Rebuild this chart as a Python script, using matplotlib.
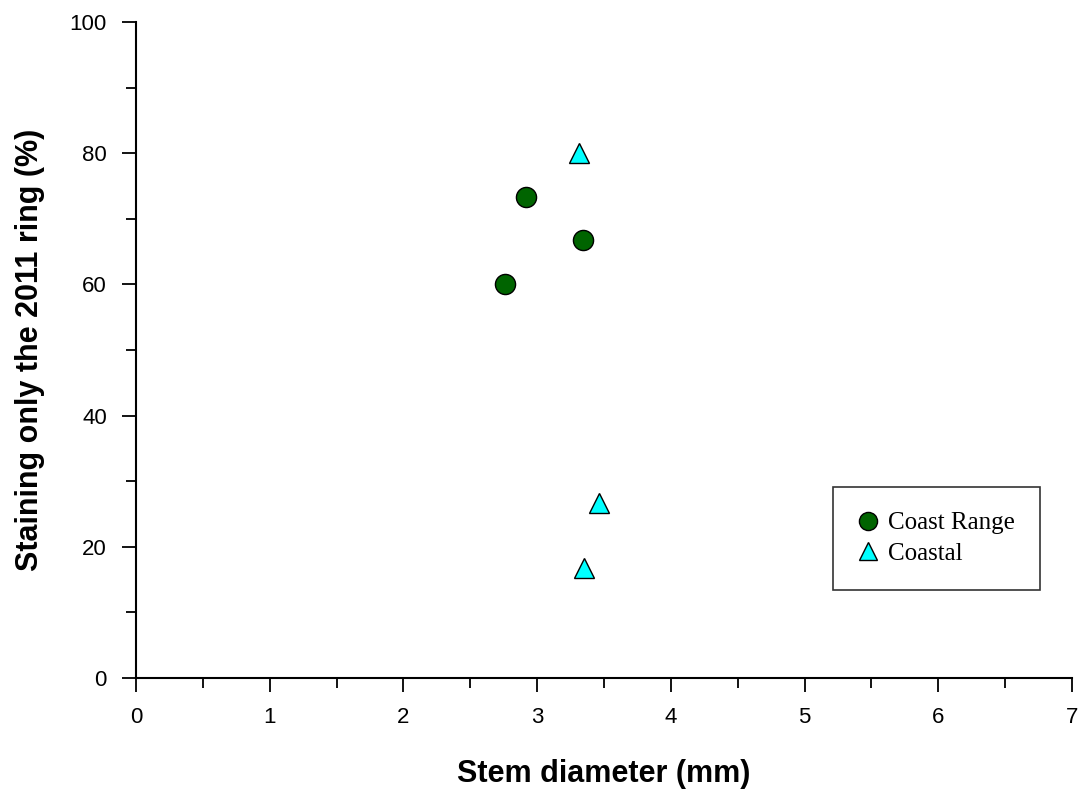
import matplotlib.pyplot as plt
from matplotlib.ticker import MultipleLocator

plt.rcParams['font.family'] = ['Liberation Sans', 'DejaVu Sans']

# Coast Range seedlings
coast_range_x = [2.76, 2.915, 3.34]
coast_range_y = [60.0, 73.3, 66.7]

# Coastal seedlings
coastal_x = [3.31, 3.465, 3.35]
coastal_y = [80.0, 26.7, 16.7]

fig = plt.figure(figsize=(10.78, 7.9), dpi=100)
ax = fig.add_axes([136 / 1078, 1 - 678 / 790, (1072 - 136) / 1078, (678 - 22) / 790])

ax.plot(coast_range_x, coast_range_y, 'o', color='#006400', markeredgecolor='black',
        markersize=14.5, markeredgewidth=1.0, label='Coast Range', clip_on=False)
ax.plot(coastal_x, coastal_y, '^', color='#00ffff', markeredgecolor='black',
        markersize=14.5, markeredgewidth=1.0, label='Coastal', clip_on=False)

ax.set_xlim(0, 7)
ax.set_ylim(0, 100)
ax.xaxis.set_major_locator(MultipleLocator(1))
ax.xaxis.set_minor_locator(MultipleLocator(0.5))
ax.yaxis.set_major_locator(MultipleLocator(20))
ax.yaxis.set_minor_locator(MultipleLocator(10))
ax.tick_params(which='major', direction='out', length=10, width=1.3, labelsize=16, pad=11)
ax.tick_params(which='minor', direction='out', length=7, width=1.3)
for s in ['top', 'right']:
    ax.spines[s].set_visible(False)
for s in ['left', 'bottom']:
    ax.spines[s].set_linewidth(1.5)

ax.set_xlabel('Stem diameter (mm)', fontsize=22, fontweight='bold', labelpad=22)
ax.set_ylabel('Staining only the 2011 ring (%)', fontsize=22, fontweight='bold', labelpad=18)

leg = ax.legend(loc='upper left', bbox_to_anchor=((833 - 136) / 936, (678 - 487) / 656),
                prop={'family': 'Liberation Serif', 'size': 18}, frameon=True, fancybox=False,
                edgecolor='black', handletextpad=0.4, borderpad=1.0, labelspacing=0.3,
                handlelength=0.8, borderaxespad=0, markerscale=0.9)
leg.get_frame().set_linewidth(1.2)

fig.savefig('out.png', dpi=100)
